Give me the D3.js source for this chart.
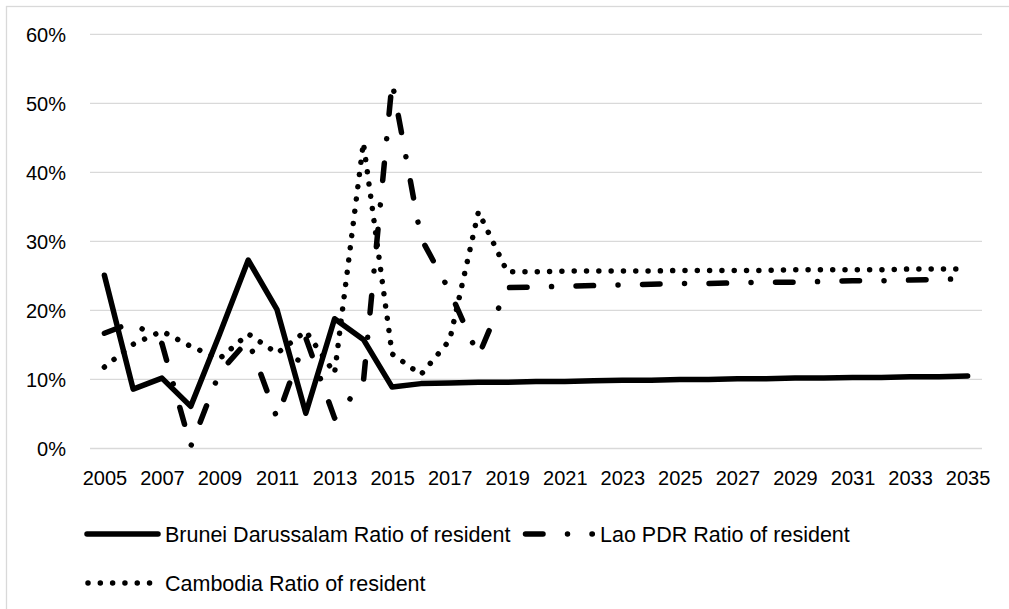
<!DOCTYPE html>
<html>
<head>
<meta charset="utf-8">
<script src="https://cdn.jsdelivr.net/npm/d3@7"></script>
<style>
  html, body { margin: 0; padding: 0; background: #fff; }
  svg { display: block; font-family: "Liberation Sans", Arial, sans-serif; }
</style>
</head>
<body>
<svg id="chart" width="1009" height="609"></svg>
<script>
const years = d3.range(2005, 2036);
const tickYears = years.filter(y => (y - 2005) % 2 === 0);
const yTicks = [0, 0.1, 0.2, 0.3, 0.4, 0.5, 0.6];

const brunei = [0.251, 0.086, 0.102, 0.061, 0.165, 0.273, 0.201, 0.051, 0.188, 0.158, 0.089,
  0.094, 0.095, 0.096, 0.096, 0.097, 0.097, 0.098, 0.099, 0.099, 0.100,
  0.100, 0.101, 0.101, 0.102, 0.102, 0.103, 0.103, 0.104, 0.104, 0.105];
const lao = [0.167, 0.183, 0.152, 0.003, 0.110, 0.157, 0.044, 0.160, 0.044, 0.096, 0.531,
  0.305, 0.228, 0.134, 0.233, 0.234, 0.235, 0.236, 0.237, 0.238, 0.239,
  0.239, 0.240, 0.241, 0.241, 0.242, 0.243, 0.243, 0.244, 0.245, 0.246];
const cambodia = [0.118, 0.151, 0.170, 0.148, 0.130, 0.166, 0.138, 0.170, 0.109, 0.443, 0.137,
  0.107, 0.157, 0.343, 0.256, 0.256, 0.257, 0.257, 0.257, 0.257, 0.258,
  0.258, 0.258, 0.258, 0.259, 0.259, 0.259, 0.259, 0.260, 0.260, 0.260];

const seriesNames = ["Brunei Darussalam Ratio of resident", "Lao PDR Ratio of resident", "Cambodia Ratio of resident"];

const svg = d3.select("#chart");
const W = 1009, H = 609;
const plot = { left: 90, right: 982, top: 34.3, bottom: 448.5 };

// chart frame
svg.append("rect").attr("x", 6.5).attr("y", 6.5).attr("width", W + 10).attr("height", H + 10)
  .attr("fill", "#fff").attr("stroke", "#d9d9d9").attr("stroke-width", 1.3);

const x = d3.scalePoint().domain(years).range([plot.left, plot.right]).padding(0.5);
const y = d3.scaleLinear().domain([0, 0.6]).range([plot.bottom, plot.top]);

// gridlines
svg.append("g").selectAll("line").data(yTicks).join("line")
  .attr("x1", plot.left).attr("x2", plot.right)
  .attr("y1", d => y(d)).attr("y2", d => y(d))
  .attr("stroke", "#d9d9d9").attr("stroke-width", 1.3);

// y axis labels
const yAxis = svg.append("g").attr("transform", `translate(${plot.left - 24},0)`)
  .call(d3.axisLeft(y).tickValues(yTicks).tickFormat(d3.format(".0%")).tickSize(0).tickPadding(0));
yAxis.select(".domain").remove();
yAxis.selectAll("text").attr("font-size", 20).attr("fill", "#000")
  .attr("font-family", '"Liberation Sans", Arial, sans-serif').attr("dy", "0.36em");

// x axis labels
const xAxis = svg.append("g").attr("transform", `translate(0,${plot.bottom})`)
  .call(d3.axisBottom(x).tickValues(tickYears).tickFormat(d3.format("d")).tickSize(0).tickPadding(0));
xAxis.select(".domain").remove();
xAxis.selectAll("text").attr("font-size", 20).attr("fill", "#000")
  .attr("font-family", '"Liberation Sans", Arial, sans-serif').attr("dy", "0").attr("y", 36.5);

const styles = [
  { data: brunei, dash: null },
  { data: lao, dash: "17.5,24.5,0.01,24.5" },
  { data: cambodia, dash: "0.01,12.3" }
];
const line = d3.line().x((d, i) => x(years[i])).y(d => y(d));

const lines = svg.append("g");
styles.forEach(s => {
  lines.append("path").datum(s.data)
    .attr("d", line)
    .attr("fill", "none").attr("stroke", "#000").attr("stroke-width", 5.5)
    .attr("stroke-linecap", "round").attr("stroke-linejoin", "round")
    .attr("stroke-dasharray", s.dash);
});

// legend
const legendItems = [
  { name: seriesNames[0], dash: null, x0: 87, x1: 158, ty: 534, tx: 165 },
  { name: seriesNames[1], dash: "17.5,24.5,0.01,24.5", x0: 525.5, x1: 592.3, ty: 534, tx: 600 },
  { name: seriesNames[2], dash: "0.01,12.3", x0: 88, x1: 158, ty: 583, tx: 165 }
];
const lg = svg.append("g");
legendItems.forEach(it => {
  lg.append("line").attr("x1", it.x0).attr("x2", it.x1).attr("y1", it.ty).attr("y2", it.ty)
    .attr("stroke", "#000").attr("stroke-width", 5.5).attr("stroke-linecap", "round")
    .attr("stroke-dasharray", it.dash);
  lg.append("text").attr("x", it.tx).attr("y", it.ty).attr("dy", "0.36em")
    .attr("font-size", 21.5).attr("fill", "#000").text(it.name);
});
</script>
</body>
</html>
